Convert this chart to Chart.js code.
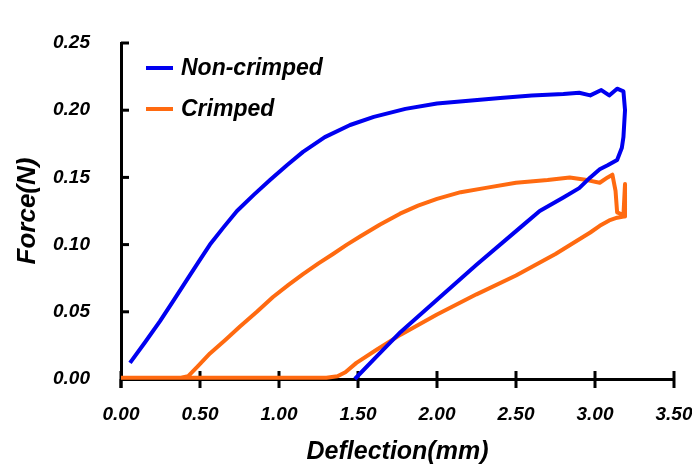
<!DOCTYPE html>
<html>
<head>
<meta charset="utf-8">
<script src="https://cdn.jsdelivr.net/npm/chart.js@4"></script>
<style>
  html, body { margin: 0; padding: 0; background: #fff; }
  #wrap { width: 692px; height: 476px; }
</style>
</head>
<body>
<div id="wrap"><canvas id="forceChart" width="692" height="476"></canvas></div>
<script>
// Ejes
const xTicks = [0, 0.5, 1.0, 1.5, 2.0, 2.5, 3.0, 3.5];
const yTicks = [0, 0.05, 0.10, 0.15, 0.20, 0.25];

// Non-crimped: carga y descarga (un solo recorrido)
const ncX = [0.057, 0.15, 0.247, 0.33, 0.418, 0.49, 0.563, 0.65, 0.734, 0.84, 0.943, 1.05, 1.152, 1.29, 1.45, 1.60,
             1.80, 2.00, 2.20, 2.40, 2.60, 2.80, 2.90, 2.97, 3.04, 3.09, 3.14, 3.18, 3.19, 3.18, 3.17, 3.14,
             3.08, 3.03, 2.97, 2.90, 2.80, 2.65, 2.53, 2.25, 2.00, 1.77, 1.62, 1.48];
const ncY = [0.012, 0.027, 0.043, 0.058, 0.074, 0.087, 0.100, 0.113, 0.125, 0.137, 0.148, 0.159, 0.169, 0.180, 0.189, 0.195,
             0.201, 0.205, 0.207, 0.209, 0.211, 0.212, 0.213, 0.211, 0.215, 0.211, 0.216, 0.214, 0.200, 0.180, 0.172, 0.163,
             0.159, 0.156, 0.150, 0.142, 0.135, 0.125, 0.113, 0.085, 0.059, 0.035, 0.017, 0.000];

// Crimped
const crX = [0.00, 0.20, 0.38, 0.424, 0.49, 0.563, 0.66, 0.753, 0.86, 0.962, 1.06, 1.152, 1.25, 1.342, 1.43, 1.513,
             1.64, 1.766, 1.88, 2.00, 2.15, 2.30, 2.50, 2.70, 2.84, 2.95, 3.03, 3.08, 3.11, 3.13, 3.14, 3.18,
             3.19, 3.19, 3.14, 3.09, 3.03, 2.97, 2.75, 2.50, 2.25, 2.00, 1.77, 1.62, 1.49, 1.42, 1.37, 1.30,
             1.00, 0.50, 0.00];
const crY = [0.001, 0.001, 0.001, 0.002, 0.010, 0.019, 0.029, 0.039, 0.050, 0.061, 0.070, 0.078, 0.086, 0.093, 0.100, 0.106,
             0.115, 0.123, 0.129, 0.134, 0.139, 0.142, 0.146, 0.148, 0.150, 0.148, 0.146, 0.150, 0.152, 0.140, 0.124, 0.122,
             0.145, 0.121, 0.120, 0.118, 0.114, 0.109, 0.093, 0.077, 0.063, 0.048, 0.033, 0.022, 0.012, 0.005, 0.002, 0.001,
             0.001, 0.001, 0.001];

const seriesNames = ['Non-crimped', 'Crimped'];
const seriesColors = ['#0000f0', '#ff6a10'];

const FONT = '"Liberation Sans", Arial, sans-serif';
Chart.defaults.font.family = FONT;
Chart.defaults.color = '#000';

function toPoints(xs, ys) {
    return xs.map((x, i) => ({ x: x, y: ys[i] }));
}

// Marcas de los ejes: en X cruzan el eje, en Y hacia dentro
const tickMarks = {
    id: 'tickMarks',
    beforeDatasetsDraw(chart) {
        const ctx = chart.ctx;
        const sx = chart.scales.x, sy = chart.scales.y;
        ctx.save();
        ctx.strokeStyle = '#000';
        ctx.lineWidth = 3;
        xTicks.forEach(v => {
            const px = sx.getPixelForValue(v);
            ctx.beginPath();
            ctx.moveTo(px, sy.bottom - 8);
            ctx.lineTo(px, sy.bottom + 9);
            ctx.stroke();
        });
        yTicks.forEach(v => {
            const py = sy.getPixelForValue(v);
            ctx.beginPath();
            ctx.moveTo(sx.left, py);
            ctx.lineTo(sx.left + 8, py);
            ctx.stroke();
        });
        // el eje Y baja un poco por debajo del eje X
        ctx.beginPath();
        ctx.moveTo(sx.left, sy.bottom);
        ctx.lineTo(sx.left, sy.bottom + 9);
        ctx.stroke();
        ctx.restore();
    }
};

// Leyenda dentro del área del gráfico
const legendInside = {
    id: 'legendInside',
    afterDraw(chart) {
        const ctx = chart.ctx;
        const left = chart.chartArea.left;
        ctx.save();
        ctx.font = 'italic bold 23px ' + FONT;
        ctx.textBaseline = 'middle';
        chart.data.datasets.forEach((ds, i) => {
            const y = 68 + i * 41;
            ctx.strokeStyle = ds.borderColor;
            ctx.lineWidth = 4;
            ctx.beginPath();
            ctx.moveTo(left + 25, y);
            ctx.lineTo(left + 52, y);
            ctx.stroke();
            ctx.fillStyle = '#000';
            ctx.fillText(ds.label, left + 60, y + 1);
        });
        ctx.restore();
    }
};

const ctx = document.getElementById('forceChart').getContext('2d');
new Chart(ctx, {
    type: 'scatter',
    data: {
        datasets: [
            {
                label: seriesNames[0],
                data: toPoints(ncX, ncY),
                borderColor: seriesColors[0],
                backgroundColor: seriesColors[0],
                borderWidth: 4,
                borderJoinStyle: 'round',
                showLine: true,
                pointRadius: 0,
                tension: 0,
                clip: 6
            },
            {
                label: seriesNames[1],
                data: toPoints(crX, crY),
                borderColor: seriesColors[1],
                backgroundColor: seriesColors[1],
                borderWidth: 4,
                borderJoinStyle: 'round',
                showLine: true,
                pointRadius: 0,
                tension: 0,
                clip: 6
            }
        ]
    },
    options: {
        responsive: false,
        animation: false,
        layout: { padding: { top: 43, right: 18, left: 0, bottom: 0 } },
        plugins: {
            legend: { display: false },
            tooltip: { enabled: false }
        },
        scales: {
            x: {
                type: 'linear',
                min: 0,
                max: 3.5,
                afterBuildTicks: s => { s.ticks = xTicks.map(v => ({ value: v })); },
                afterFit: s => { s.height = 97; s.paddingRight = 0; s.paddingLeft = 0; },
                grid: { display: false, drawTicks: false },
                border: { display: true, color: '#000', width: 3 },
                ticks: {
                    padding: 24,
                    maxRotation: 0,
                    font: { size: 19, style: 'italic', weight: 'bold' },
                    callback: v => v.toFixed(2)
                },
                title: {
                    display: true,
                    text: 'Deflection(mm)',
                    font: { size: 25, style: 'italic', weight: 'bold' },
                    padding: { top: 0, bottom: 9 }
                }
            },
            y: {
                type: 'linear',
                min: 0,
                max: 0.25,
                afterBuildTicks: s => { s.ticks = yTicks.map(v => ({ value: v })); },
                afterFit: s => { s.width = 121; },
                grid: { display: false, drawTicks: false },
                border: { display: true, color: '#000', width: 3 },
                ticks: {
                    padding: 31,
                    font: { size: 19, style: 'italic', weight: 'bold' },
                    callback: v => v.toFixed(2)
                },
                title: {
                    display: true,
                    text: 'Force(N)',
                    font: { size: 26, style: 'italic', weight: 'bold' },
                    padding: { top: 12, bottom: 0 }
                }
            }
        }
    },
    plugins: [tickMarks, legendInside]
});
</script>
</body>
</html>
